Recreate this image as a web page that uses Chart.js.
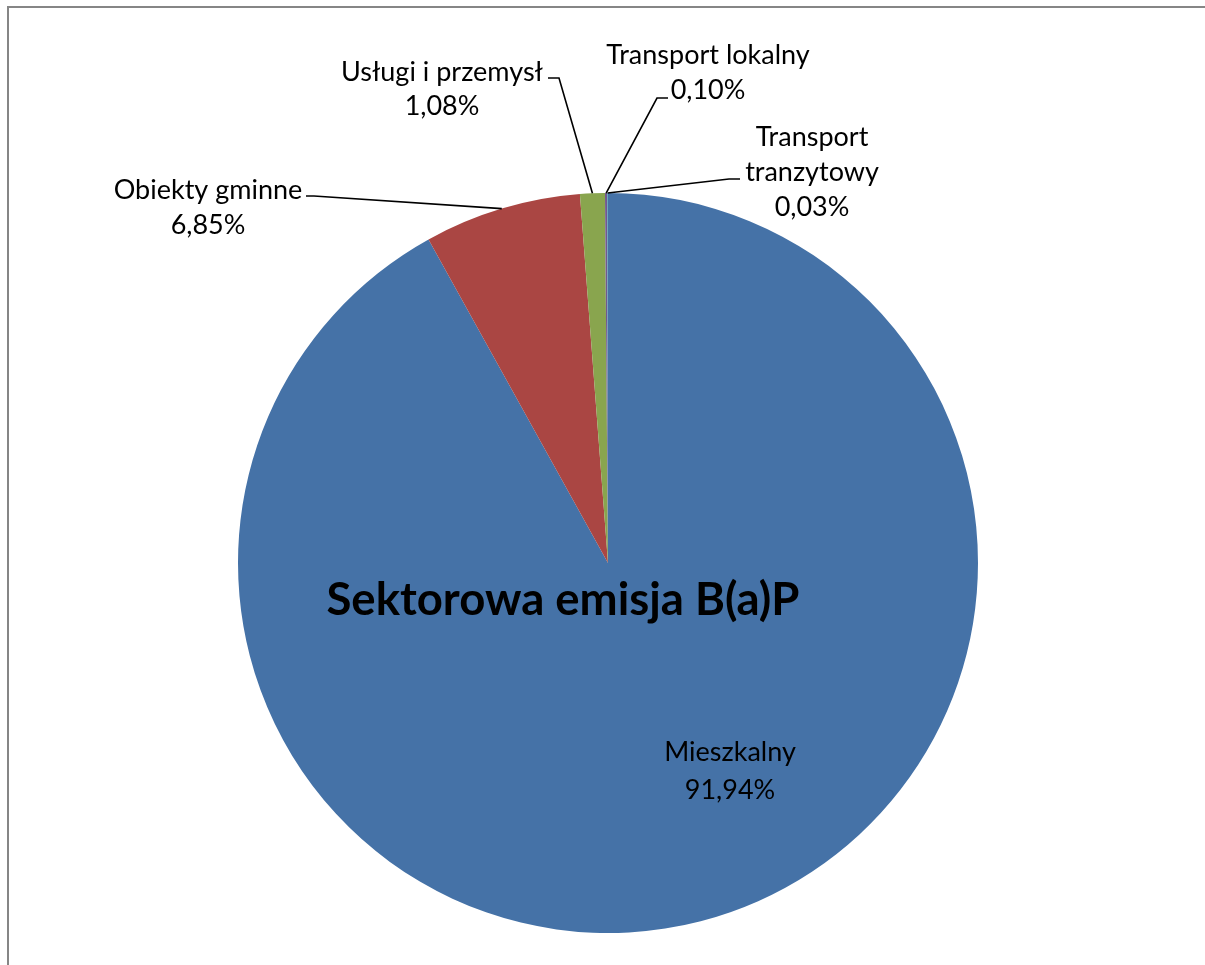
<!DOCTYPE html>
<html>
<head>
<meta charset="utf-8">
<script src="https://cdn.jsdelivr.net/npm/chart.js@4.4.1/dist/chart.umd.min.js"></script>
<style>
html,body{margin:0;padding:0;background:#fff;}
#wrap{position:relative;width:1205px;height:965px;}
</style>
</head>
<body>
<div id="wrap"><canvas id="c" width="1205" height="965"></canvas></div>
<script>
// ---- data ----
const chartTitle = "Sektorowa emisja B(a)P";
const categories = ["Mieszkalny", "Obiekty gminne", "Usługi i przemysł", "Transport lokalny", "Transport tranzytowy"];
const values = [91.94, 6.85, 1.08, 0.10, 0.03];
const labelLines = [["Mieszkalny"], ["Obiekty gminne"], ["Usługi i przemysł"], ["Transport lokalny"], ["Transport", "tranzytowy"]];

// ---- style / layout ----
const colors = ["#4572A7", "#AA4643", "#89A54E", "#71588F", "#4198AF"];
const FONT = "Lato, 'Open Sans', sans-serif";
const labelLayout = [
  {x: 730, y: 752, gap: 38, line: null},
  {x: 208, y: 190, gap: 35, line: [[306, 196], [314, 196]]},
  {x: 442, y: 72, gap: 34, line: [[548, 78], [559, 78]]},
  {x: 708, y: 55, gap: 35, line: [[668, 98], [657, 98]]},
  {x: 812, y: 137, gap: 35, line: [[740, 179], [729, 179]]}
];

const fmt = v => v.toFixed(2).replace('.', ',') + '%';

const decor = {
  id: 'decor',
  beforeDraw(chart) {
    const ctx = chart.ctx;
    ctx.save();
    ctx.fillStyle = '#fff';
    ctx.fillRect(0, 0, chart.width, chart.height);
    ctx.strokeStyle = '#868686';
    ctx.lineWidth = 2;
    ctx.strokeRect(8, 7, chart.width + 20, chart.height + 20);
    ctx.restore();
  },
  afterDatasetsDraw(chart) {
    const ctx = chart.ctx;
    const meta = chart.getDatasetMeta(0);
    ctx.save();
    meta.data.forEach((arc, i) => {
      const p = arc.getProps(['x', 'y', 'startAngle', 'endAngle', 'outerRadius'], true);
      const mid = (p.startAngle + p.endAngle) / 2;
      const ex = p.x + Math.cos(mid) * p.outerRadius;
      const ey = p.y + Math.sin(mid) * p.outerRadius;
      const L = labelLayout[i];
      if (L.line) {
        ctx.beginPath();
        ctx.strokeStyle = '#000';
        ctx.lineWidth = 1.6;
        ctx.moveTo(L.line[0][0], L.line[0][1]);
        ctx.lineTo(L.line[1][0], L.line[1][1]);
        ctx.lineTo(ex, ey);
        ctx.stroke();
      }
      const lines = labelLines[i].concat([fmt(chart.data.datasets[0].data[i])]);
      ctx.fillStyle = '#000';
      ctx.font = "27px " + FONT;
      ctx.textAlign = 'center';
      ctx.textBaseline = 'middle';
      lines.forEach((t, k) => ctx.fillText(t, L.x, L.y + k * L.gap));
    });
    ctx.font = "bold 45.5px " + FONT;
    ctx.textAlign = 'center';
    ctx.textBaseline = 'middle';
    ctx.fillStyle = '#000';
    ctx.fillText(chartTitle, 563, 600);
    ctx.restore();
  }
};

new Chart(document.getElementById('c'), {
  type: 'pie',
  data: {
    labels: categories,
    datasets: [{
      data: values,
      backgroundColor: colors,
      borderWidth: 0
    }]
  },
  options: {
    responsive: false,
    animation: false,
    layout: {padding: {top: 193, bottom: 32, left: 238, right: 227}},
    plugins: {legend: {display: false}, tooltip: {enabled: false}, title: {display: false}}
  },
  plugins: [decor]
});
</script>
</body>
</html>
